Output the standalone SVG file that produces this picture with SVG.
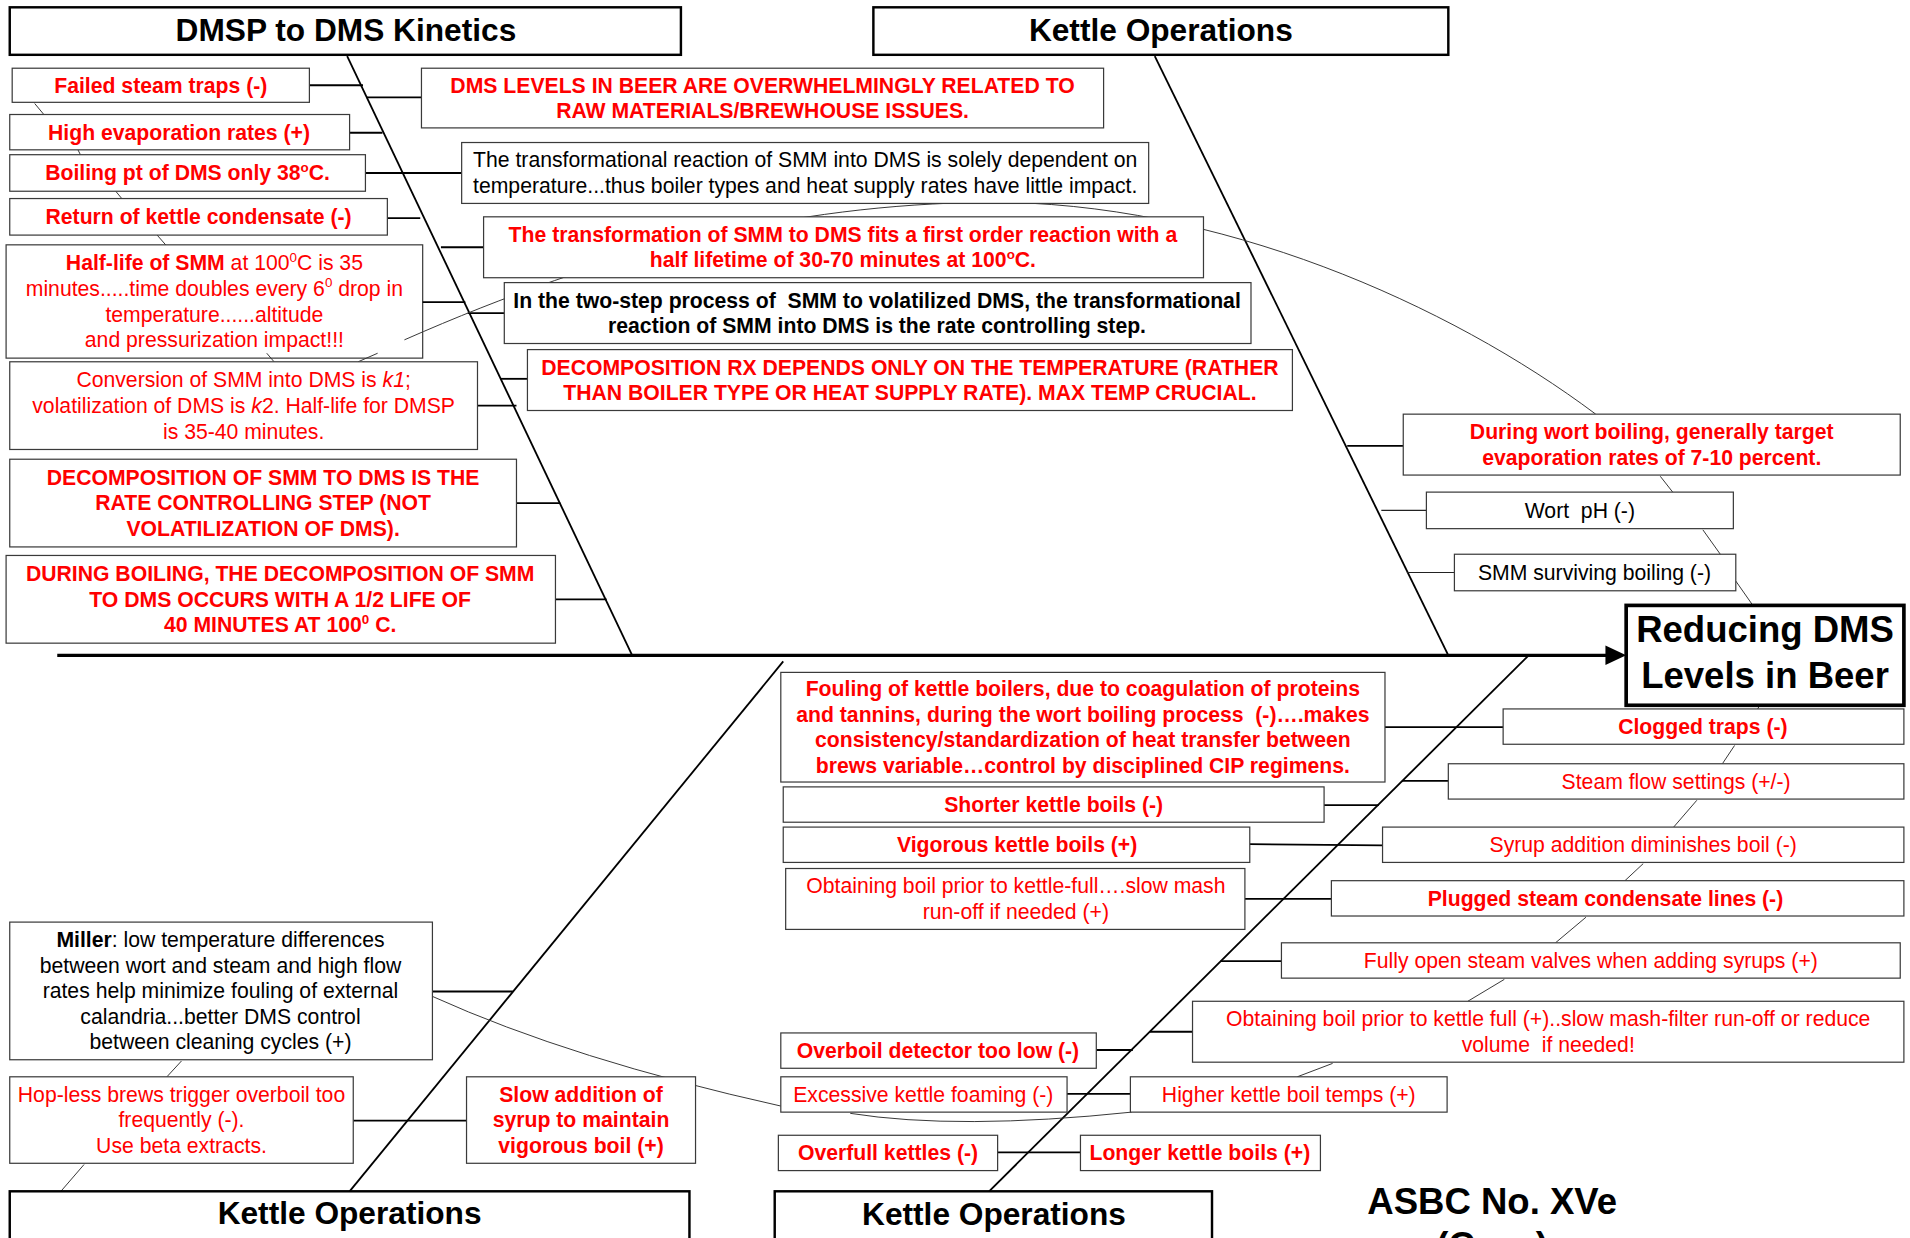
<svg xmlns="http://www.w3.org/2000/svg" width="1910" height="1238" viewBox="0 0 1910 1238">
<defs>
<style>
.bx{fill:#fff;stroke:#3a3a3a;stroke-width:1}
.tb{fill:#fff;stroke:#000;stroke-width:2}
.hb{fill:#fff;stroke:#000;stroke-width:3}
text{font-family:"Liberation Sans",Arial,Helvetica,sans-serif;font-size:17.4px;text-anchor:middle}
.r{fill:#f00}
.rb{fill:#f00;font-weight:bold}
.k{fill:#000}
.kb{fill:#000;font-weight:bold}
.ttl{fill:#000;font-weight:bold;font-size:26px}
.hd{fill:#000;font-weight:bold;font-size:30px}
.bone{stroke:#000;stroke-width:1.5;fill:none}
.rib{stroke:#000;stroke-width:1.5;fill:none}
.rib2{stroke:#222;stroke-width:1;fill:none}
.thin{stroke:#333;stroke-width:0.8;fill:none}
.sup{font-size:11px}
</style>
</defs>
<rect x="0" y="0" width="1910" height="1238" fill="#fff"/>
<g transform="scale(1.2181)">

<g id="n-halflife">
<rect class="bx" x="5" y="201" width="342" height="93"/>
<text class="r" x="176" y="222"><tspan font-weight="bold">Half-life of SMM</tspan> at 100<tspan class="sup" dy="-7">0</tspan><tspan dy="7">C is 35</tspan></text>
<text class="r" x="176" y="243">minutes.....time doubles every 6<tspan class="sup" dy="-7">0</tspan><tspan dy="7"> drop in</tspan></text>
<text class="r" x="176" y="264">temperature......altitude</text>
<text class="r" x="176" y="285">and pressurization impact!!!</text>
</g>

<g id="connectors">
<!-- spine -->
<line x1="47" y1="538" x2="1320" y2="538" stroke="#000" stroke-width="2.6"/>
<polygon points="1318,530 1335,538 1318,546" fill="#000"/>
<!-- bones -->
<line class="bone" x1="285" y1="46" x2="519" y2="538"/>
<line class="bone" x1="948" y1="46" x2="1189" y2="538"/>
<line class="bone" x1="643" y1="543" x2="287" y2="978"/>
<line class="bone" x1="1255" y1="538" x2="812" y2="978"/>
<!-- top-left ribs -->
<line class="rib" x1="254" y1="70" x2="298" y2="70"/>
<line class="rib" x1="301" y1="80" x2="346" y2="80"/>
<line class="rib" x1="287" y1="109" x2="314" y2="109"/>
<line class="rib" x1="300" y1="142" x2="379" y2="142"/>
<line class="rib" x1="318" y1="179" x2="345" y2="179"/>
<line class="rib" x1="362" y1="203" x2="397" y2="203"/>
<line class="rib" x1="347" y1="248" x2="382" y2="248"/>
<line class="rib" x1="384" y1="257" x2="414" y2="257"/>
<line class="rib" x1="411" y1="311" x2="433" y2="311"/>
<line class="rib" x1="392" y1="333" x2="424" y2="333"/>
<line class="rib" x1="424" y1="413" x2="460" y2="413"/>
<line class="rib" x1="456" y1="492" x2="498" y2="492"/>
<!-- top-right ribs -->
<line class="rib" x1="1106" y1="366" x2="1152" y2="366"/>
<line class="rib2" x1="1134" y1="419" x2="1171" y2="419"/>
<line class="rib2" x1="1155" y1="470" x2="1194" y2="470"/>
<!-- bottom-mid ribs -->
<line class="rib" x1="1137" y1="597" x2="1234" y2="597"/>
<line class="rib" x1="1151" y1="641" x2="1189" y2="641"/>
<line class="rib" x1="1087" y1="661" x2="1132" y2="661"/>
<line class="rib" x1="1026" y1="693" x2="1135" y2="694"/>
<line class="rib" x1="1022" y1="738" x2="1093" y2="738"/>
<line class="rib" x1="1002" y1="789" x2="1052" y2="789"/>
<line class="rib" x1="944" y1="847" x2="979" y2="847"/>
<line class="rib" x1="900" y1="862" x2="930" y2="862"/>
<line class="rib" x1="876" y1="898" x2="928" y2="898"/>
<line class="rib" x1="819" y1="946" x2="887" y2="946"/>
<!-- bottom-left ribs -->
<line class="rib" x1="355" y1="814" x2="421" y2="814"/>
<line class="rib" x1="290" y1="920" x2="383" y2="920"/>
<!-- thin links between stacked boxes -->
<line class="thin" x1="28.5" y1="85" x2="36" y2="94"/>
<line class="thin" x1="64" y1="123" x2="66" y2="127"/>
<line class="thin" x1="95" y1="157" x2="100" y2="163"/>
<line class="thin" x1="129" y1="193" x2="136" y2="201"/>
<line class="thin" x1="219" y1="290" x2="225" y2="297"/>
<line class="thin" x1="294" y1="297" x2="310" y2="290"/>
<line class="thin" x1="1363" y1="391" x2="1374" y2="405"/>
<line class="thin" x1="1398" y1="435" x2="1413" y2="456"/>
<line class="thin" x1="1425" y1="477" x2="1439" y2="497"/>
<line class="thin" x1="1443" y1="582" x2="1445" y2="578"/>
<line class="thin" x1="1414" y1="627" x2="1424" y2="612"/>
<line class="thin" x1="1374" y1="679" x2="1393" y2="657"/>
<line class="thin" x1="1334" y1="723" x2="1349" y2="709"/>
<line class="thin" x1="1277" y1="774" x2="1302" y2="753"/>
<line class="thin" x1="1205" y1="822" x2="1235" y2="804"/>
<line class="thin" x1="1065" y1="884" x2="1094" y2="873"/>
<line class="thin" x1="149" y1="871" x2="137" y2="884"/>
<line class="thin" x1="69" y1="956" x2="50" y2="978"/>
<!-- curves -->
<path class="thin" d="M332,279 C500,205 650,168 810,166 C1000,165 1190,250 1310,340"/>
<path class="thin" d="M355,818 Q470,870 641,908"/>
<path class="thin" d="M698,914 Q786,928 929,913"/>
</g>

<g id="n-failed"><rect class="bx" x="10" y="56" width="244" height="28"/><text class="rb" x="132" y="76">Failed steam traps (-)</text></g>
<g id="n-highevap"><rect class="bx" x="8" y="94" width="279" height="29"/><text class="rb" x="147" y="115">High evaporation rates (+)</text></g>
<g id="n-boilingpt"><rect class="bx" x="8" y="127" width="292" height="30"/><text class="rb" x="154" y="148">Boiling pt of DMS only 38<tspan class="sup" dy="-7">o</tspan><tspan dy="7">C.</tspan></text></g>
<g id="n-return"><rect class="bx" x="8" y="163" width="310" height="30"/><text class="rb" x="163" y="184">Return of kettle condensate (-)</text></g>
<g id="n-conversion"><rect class="bx" x="8" y="297" width="384" height="72"/>
<text class="r" x="200" y="318">Conversion of SMM into DMS is <tspan font-style="italic">k1</tspan>;</text>
<text class="r" x="200" y="339">volatilization of DMS is <tspan font-style="italic">k</tspan>2. Half-life for DMSP</text>
<text class="r" x="200" y="360">is 35-40 minutes.</text></g>
<g id="n-decompsmm"><rect class="bx" x="8" y="377" width="416" height="72"/>
<text class="rb" x="216" y="398">DECOMPOSITION OF SMM TO DMS IS THE</text>
<text class="rb" x="216" y="419">RATE CONTROLLING STEP (NOT</text>
<text class="rb" x="216" y="440">VOLATILIZATION OF DMS).</text></g>
<g id="n-duringboiling"><rect class="bx" x="5" y="456" width="451" height="72"/>
<text class="rb" x="230" y="477">DURING BOILING, THE DECOMPOSITION OF SMM</text>
<text class="rb" x="230" y="498">TO DMS OCCURS WITH A 1/2 LIFE OF</text>
<text class="rb" x="230" y="519">40 MINUTES AT 100<tspan class="sup" dy="-7">0</tspan><tspan dy="7"> C.</tspan></text></g>

<g id="n-dmslevels"><rect class="bx" x="346" y="56" width="560" height="49"/>
<text class="rb" x="626" y="76">DMS LEVELS IN BEER ARE OVERWHELMINGLY RELATED TO</text>
<text class="rb" x="626" y="97">RAW MATERIALS/BREWHOUSE ISSUES.</text></g>
<g id="n-transformational"><rect class="bx" x="379" y="117" width="564" height="50"/>
<text class="k" x="661" y="137.5">The transformational reaction of SMM into DMS is solely dependent on</text>
<text class="k" x="661" y="158.5">temperature...thus boiler types and heat supply rates have little impact.</text></g>
<g id="n-transformation"><rect class="bx" x="397" y="178" width="591" height="50"/>
<text class="rb" x="692" y="198.5">The transformation of SMM to DMS fits a first order reaction with a</text>
<text class="rb" x="692" y="219.5">half lifetime of 30-70 minutes at 100<tspan class="sup" dy="-7">o</tspan><tspan dy="7">C.</tspan></text></g>
<g id="n-twostep"><rect class="bx" x="414" y="232" width="613" height="50"/>
<text class="kb" x="720" y="252.5" xml:space="preserve">In the two-step process of  SMM to volatilized DMS, the transformational</text>
<text class="kb" x="720" y="273.5">reaction of SMM into DMS is the rate controlling step.</text></g>
<g id="n-decomprx"><rect class="bx" x="433" y="287" width="628" height="50"/>
<text class="rb" x="747" y="307.5">DECOMPOSITION RX DEPENDS ONLY ON THE TEMPERATURE (RATHER</text>
<text class="rb" x="747" y="328.5">THAN BOILER TYPE OR HEAT SUPPLY RATE). MAX TEMP CRUCIAL.</text></g>

<g id="n-duringwort"><rect class="bx" x="1152" y="340" width="408" height="50"/>
<text class="rb" x="1356" y="360.5">During wort boiling, generally target</text>
<text class="rb" x="1356" y="381.5">evaporation rates of 7-10 percent.</text></g>
<g id="n-wortph"><rect class="bx" x="1171" y="404" width="252" height="30"/><text class="k" x="1297" y="425" xml:space="preserve">Wort  pH (-)</text></g>
<g id="n-smmsurviving"><rect class="bx" x="1194" y="455" width="231" height="30"/><text class="k" x="1309" y="476">SMM surviving boiling (-)</text></g>

<g id="n-head"><rect class="hb" x="1335" y="497" width="228" height="82"/>
<text class="hd" x="1449" y="527">Reducing DMS</text>
<text class="hd" x="1449" y="565">Levels in Beer</text></g>

<g id="n-fouling"><rect class="bx" x="641" y="552" width="496" height="90"/>
<text class="rb" x="889" y="571.5">Fouling of kettle boilers, due to coagulation of proteins</text>
<text class="rb" x="889" y="592.5" xml:space="preserve">and tannins, during the wort boiling process  (-)….makes</text>
<text class="rb" x="889" y="613.5">consistency/standardization of heat transfer between</text>
<text class="rb" x="889" y="634.5">brews variable…control by disciplined CIP regimens.</text></g>
<g id="n-clogged"><rect class="bx" x="1234" y="582" width="329" height="29"/><text class="rb" x="1398" y="602.5">Clogged traps (-)</text></g>
<g id="n-steamflow"><rect class="bx" x="1189" y="627" width="374" height="29"/><text class="r" x="1376" y="647.5">Steam flow settings (+/-)</text></g>
<g id="n-shorter"><rect class="bx" x="643" y="646" width="444" height="29"/><text class="rb" x="865" y="666.5">Shorter kettle boils (-)</text></g>
<g id="n-vigorous"><rect class="bx" x="643" y="679" width="383" height="29"/><text class="rb" x="835" y="699.5">Vigorous kettle boils (+)</text></g>
<g id="n-syrup"><rect class="bx" x="1135" y="679" width="428" height="29"/><text class="r" x="1349" y="699.5">Syrup addition diminishes boil (-)</text></g>
<g id="n-obtaining1"><rect class="bx" x="645" y="713" width="377" height="50"/>
<text class="r" x="834" y="733.5">Obtaining boil prior to kettle-full….slow mash</text>
<text class="r" x="834" y="754.5">run-off if needed (+)</text></g>
<g id="n-plugged"><rect class="bx" x="1093" y="723" width="470" height="29"/><text class="rb" x="1318" y="743.5">Plugged steam condensate lines (-)</text></g>
<g id="n-fullyopen"><rect class="bx" x="1052" y="774" width="508" height="29"/><text class="r" x="1306" y="794.5">Fully open steam valves when adding syrups (+)</text></g>
<g id="n-obtaining2"><rect class="bx" x="979" y="822" width="584" height="50"/>
<text class="r" x="1271" y="842.5">Obtaining boil prior to kettle full (+)..slow mash-filter run-off or reduce</text>
<text class="r" x="1271" y="863.5" xml:space="preserve">volume  if needed!</text></g>
<g id="n-overboil"><rect class="bx" x="641" y="848" width="259" height="29"/><text class="rb" x="770" y="868.5">Overboil detector too low (-)</text></g>
<g id="n-foaming"><rect class="bx" x="641" y="884" width="235" height="29"/><text class="r" x="758" y="904.5">Excessive kettle foaming (-)</text></g>
<g id="n-higher"><rect class="bx" x="928" y="884" width="260" height="29"/><text class="r" x="1058" y="904.5">Higher kettle boil temps (+)</text></g>
<g id="n-overfull"><rect class="bx" x="639" y="932" width="180" height="29"/><text class="rb" x="729" y="952.5">Overfull kettles (-)</text></g>
<g id="n-longer"><rect class="bx" x="887" y="932" width="197" height="29"/><text class="rb" x="985" y="952.5">Longer kettle boils (+)</text></g>

<g id="n-miller"><rect class="bx" x="8" y="757" width="347" height="113"/>
<text class="k" x="181" y="777.5"><tspan font-weight="bold">Miller</tspan>: low temperature differences</text>
<text class="k" x="181" y="798.5">between wort and steam and high flow</text>
<text class="k" x="181" y="819.5">rates help minimize fouling of external</text>
<text class="k" x="181" y="840.5">calandria...better DMS control</text>
<text class="k" x="181" y="861.5">between cleaning cycles (+)</text></g>
<g id="n-hopless"><rect class="bx" x="8" y="884" width="282" height="71"/>
<text class="r" x="149" y="904.5">Hop-less brews trigger overboil too</text>
<text class="r" x="149" y="925.5">frequently (-).</text>
<text class="r" x="149" y="946.5">Use beta extracts.</text></g>
<g id="n-slowaddition"><rect class="bx" x="383" y="884" width="188" height="71"/>
<text class="rb" x="477" y="904.5">Slow addition of</text>
<text class="rb" x="477" y="925.5">syrup to maintain</text>
<text class="rb" x="477" y="946.5">vigorous boil (+)</text></g>

<g id="n-title-dmsp"><rect class="tb" x="8" y="6" width="551" height="39"/><text class="ttl" x="284" y="34">DMSP to DMS Kinetics</text></g>
<g id="n-title-kettle-top"><rect class="tb" x="717" y="6" width="472" height="39"/><text class="ttl" x="953" y="34">Kettle Operations</text></g>
<g id="n-title-kettle-bl"><rect class="tb" x="8" y="978" width="558" height="50"/><text class="ttl" x="287" y="1005">Kettle Operations</text></g>
<g id="n-title-kettle-bm"><rect class="tb" x="636" y="978" width="359" height="50"/><text class="ttl" x="816" y="1006">Kettle Operations</text></g>
<g id="n-asbc">
<text class="hd" x="1225" y="997">ASBC No. XVe</text>
<text class="hd" x="1225" y="1033">(Case)</text>
</g>
</g>
</svg>
